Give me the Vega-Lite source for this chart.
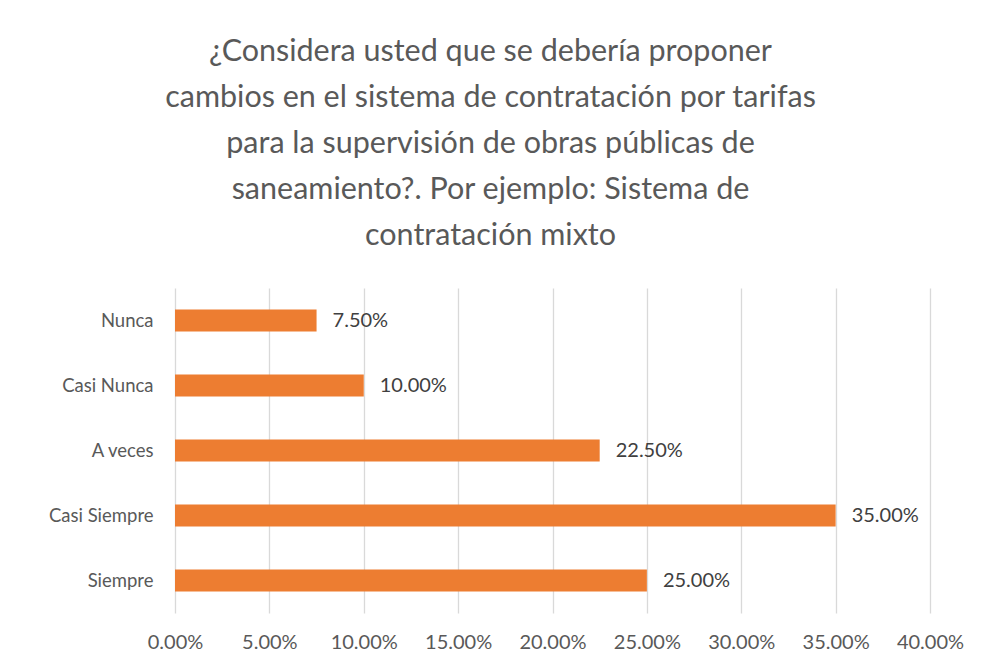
{
  "$schema": "https://vega.github.io/schema/vega-lite/v6.json",
  "width": 755,
  "height": 325,
  "autosize": {"type": "none"},
  "padding": {"left": 175, "top": 288, "right": 62, "bottom": 59},
  "background": "white",
  "config": {"view": {"stroke": null}, "font": "Lato"},
  "title": {
    "text": ["¿Considera usted que se debería proponer", "cambios en el sistema de contratación por tarifas", "para la supervisión de obras públicas de", "saneamiento?. Por ejemplo: Sistema de", "contratación mixto"],
    "fontSize": 30.5,
    "fontWeight": "normal",
    "color": "#595959",
    "lineHeight": 46,
    "anchor": "middle",
    "dx": -62,
    "offset": 37
  },
  "data": {
    "values": [
      {"cat": "Nunca", "value": 0.075},
      {"cat": "Casi Nunca", "value": 0.10},
      {"cat": "A veces", "value": 0.225},
      {"cat": "Casi Siempre", "value": 0.35},
      {"cat": "Siempre", "value": 0.25}
    ]
  },
  "encoding": {
    "y": {
      "field": "cat", "type": "nominal", "sort": null, "title": null,
      "scale": {"paddingInner": 0.66, "paddingOuter": 0.33},
      "axis": {"ticks": false, "domain": false, "labelPadding": 22, "labelFontSize": 18.5, "labelColor": "#595959"}
    },
    "x": {
      "field": "value", "type": "quantitative", "title": null,
      "scale": {"domain": [0, 0.4], "nice": false},
      "axis": {"values": [0, 0.05, 0.1, 0.15, 0.2, 0.25, 0.3, 0.35, 0.4], "format": ".2%", "ticks": false, "domain": false, "grid": true, "gridColor": "#d9d9d9", "gridWidth": 1.3, "labelPadding": 19, "labelFontSize": 20, "labelColor": "#595959", "labelFlush": false}
    }
  },
  "layer": [
    {"mark": {"type": "bar", "color": "#ED7D31"}},
    {"mark": {"type": "text", "align": "left", "dx": 16, "fontSize": 20, "color": "#404040", "baseline": "middle"},
     "encoding": {"text": {"field": "value", "type": "quantitative", "format": ".2%"}}}
  ]
}
